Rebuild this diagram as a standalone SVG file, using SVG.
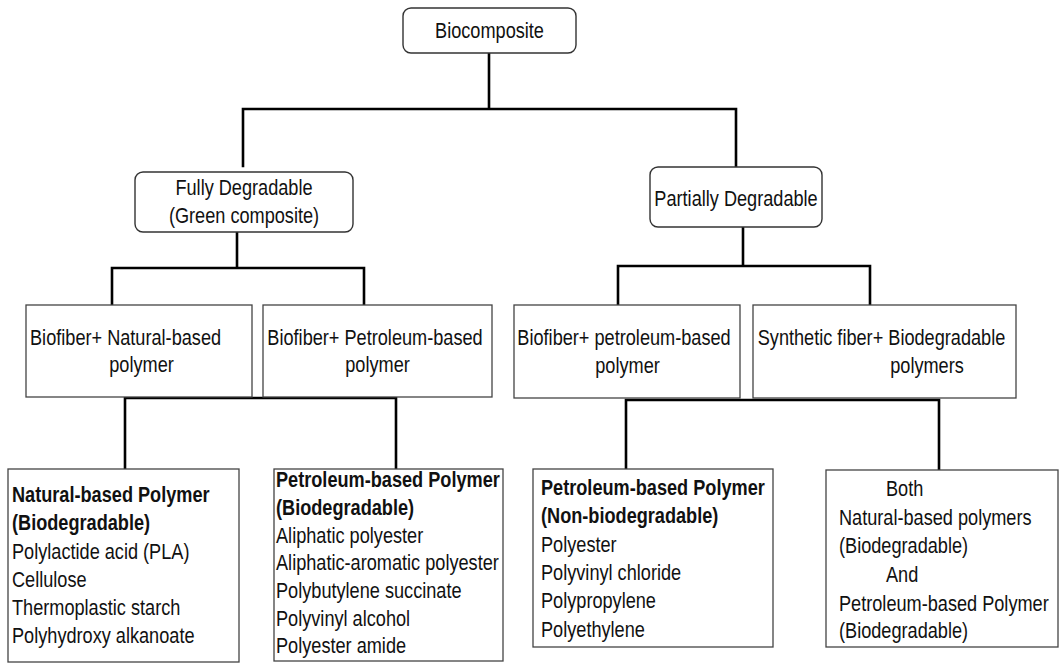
<svg xmlns="http://www.w3.org/2000/svg" width="1060" height="663" viewBox="0 0 1060 663">
<style>
.rbox{fill:#fff;stroke:#333;stroke-width:1.4}
.box{fill:#fff;stroke:#444;stroke-width:1.3}
.t{font-family:"Liberation Sans",Arial,sans-serif;font-size:22px;fill:#111}
.b{font-weight:bold}
.m{text-anchor:middle}
.c{fill:none;stroke:#000;stroke-width:2.6;stroke-linecap:square}
</style>
<rect width="1060" height="663" fill="#fff"/>
<g id="connectors">
<path class="c" d="M489,53V109M243,109H736M243,109V166M736,109V166"/>
<path class="c" d="M237,232V268M112,268H364M112,268V305M364,268V305"/>
<path class="c" d="M743,227V266M618,266H870M618,266V305M870,266V305"/>
<path class="c" d="M125,398H396M125,398V469M396,398V469"/>
<path class="c" d="M626,400H939M626,400V469M939,400V470"/>
</g>
<g id="biocomposite">
<rect class="rbox" x="403" y="8" width="173" height="45" rx="8"/>
<text class="t m" transform="translate(489.5,38) scale(0.825,1)">Biocomposite</text>
</g>
<g id="fully">
<rect class="rbox" x="135" y="172" width="218" height="60" rx="8"/>
<text class="t m" transform="translate(244,195) scale(0.825,1)">Fully Degradable</text>
<text class="t m" transform="translate(244,223) scale(0.825,1)">(Green composite)</text>
</g>
<g id="partially">
<rect class="rbox" x="650" y="167" width="172" height="60" rx="8"/>
<text class="t m" transform="translate(736,206) scale(0.825,1)">Partially Degradable</text>
</g>
<g id="bio-natural">
<rect class="box" x="26" y="305" width="226" height="92"/>
<text class="t" transform="translate(30,345) scale(0.825,1)">Biofiber+ Natural-based</text>
<text class="t m" transform="translate(141.5,372) scale(0.825,1)">polymer</text>
</g>
<g id="bio-petroleum">
<rect class="box" x="263" y="305" width="229" height="92"/>
<text class="t m" transform="translate(375,345) scale(0.825,1)">Biofiber+ Petroleum-based</text>
<text class="t m" transform="translate(377.5,372) scale(0.825,1)">polymer</text>
</g>
<g id="bio-petroleum-partial">
<rect class="box" x="514" y="305" width="226" height="93"/>
<text class="t m" transform="translate(624,345) scale(0.825,1)">Biofiber+ petroleum-based</text>
<text class="t m" transform="translate(627.5,373) scale(0.825,1)">polymer</text>
</g>
<g id="synthetic">
<rect class="box" x="753" y="305" width="263" height="93"/>
<text class="t m" transform="translate(881.5,345) scale(0.825,1)">Synthetic fiber+ Biodegradable</text>
<text class="t m" transform="translate(927,373) scale(0.825,1)">polymers</text>
</g>
<g id="natural-polymer">
<rect class="box" x="8" y="469" width="231" height="193"/>
<text class="t b" transform="translate(12,502) scale(0.825,1)">Natural-based Polymer</text>
<text class="t b" transform="translate(12,530) scale(0.825,1)">(Biodegradable)</text>
<text class="t" transform="translate(12,559) scale(0.825,1)">Polylactide acid (PLA)</text>
<text class="t" transform="translate(12,587) scale(0.825,1)">Cellulose</text>
<text class="t" transform="translate(12,615) scale(0.825,1)">Thermoplastic starch</text>
<text class="t" transform="translate(12,643) scale(0.825,1)">Polyhydroxy alkanoate</text>
</g>
<g id="petroleum-bio">
<rect class="box" x="274" y="469" width="229" height="192"/>
<text class="t b" transform="translate(276,487) scale(0.825,1)">Petroleum-based Polymer</text>
<text class="t b" transform="translate(276,515) scale(0.825,1)">(Biodegradable)</text>
<text class="t" transform="translate(276,542.5) scale(0.825,1)">Aliphatic polyester</text>
<text class="t" transform="translate(276,570) scale(0.825,1)">Aliphatic-aromatic polyester</text>
<text class="t" transform="translate(276,598) scale(0.825,1)">Polybutylene succinate</text>
<text class="t" transform="translate(276,625.5) scale(0.825,1)">Polyvinyl alcohol</text>
<text class="t" transform="translate(276,653) scale(0.825,1)">Polyester amide</text>
</g>
<g id="petroleum-nonbio">
<rect class="box" x="533" y="469" width="240" height="178"/>
<text class="t b" transform="translate(541,495) scale(0.825,1)">Petroleum-based Polymer</text>
<text class="t b" transform="translate(541,523) scale(0.825,1)">(Non-biodegradable)</text>
<text class="t" transform="translate(541,552) scale(0.825,1)">Polyester</text>
<text class="t" transform="translate(541,580) scale(0.825,1)">Polyvinyl chloride</text>
<text class="t" transform="translate(541,608) scale(0.825,1)">Polypropylene</text>
<text class="t" transform="translate(541,637) scale(0.825,1)">Polyethylene</text>
</g>
<g id="both">
<rect class="box" x="826" y="470" width="232" height="177"/>
<text class="t" transform="translate(886,496) scale(0.825,1)">Both</text>
<text class="t" transform="translate(839,525) scale(0.825,1)">Natural-based polymers</text>
<text class="t" transform="translate(839,553) scale(0.825,1)">(Biodegradable)</text>
<text class="t" transform="translate(886,582) scale(0.825,1)">And</text>
<text class="t" transform="translate(839,611) scale(0.825,1)">Petroleum-based Polymer</text>
<text class="t" transform="translate(839,638) scale(0.825,1)">(Biodegradable)</text>
</g>
</svg>
